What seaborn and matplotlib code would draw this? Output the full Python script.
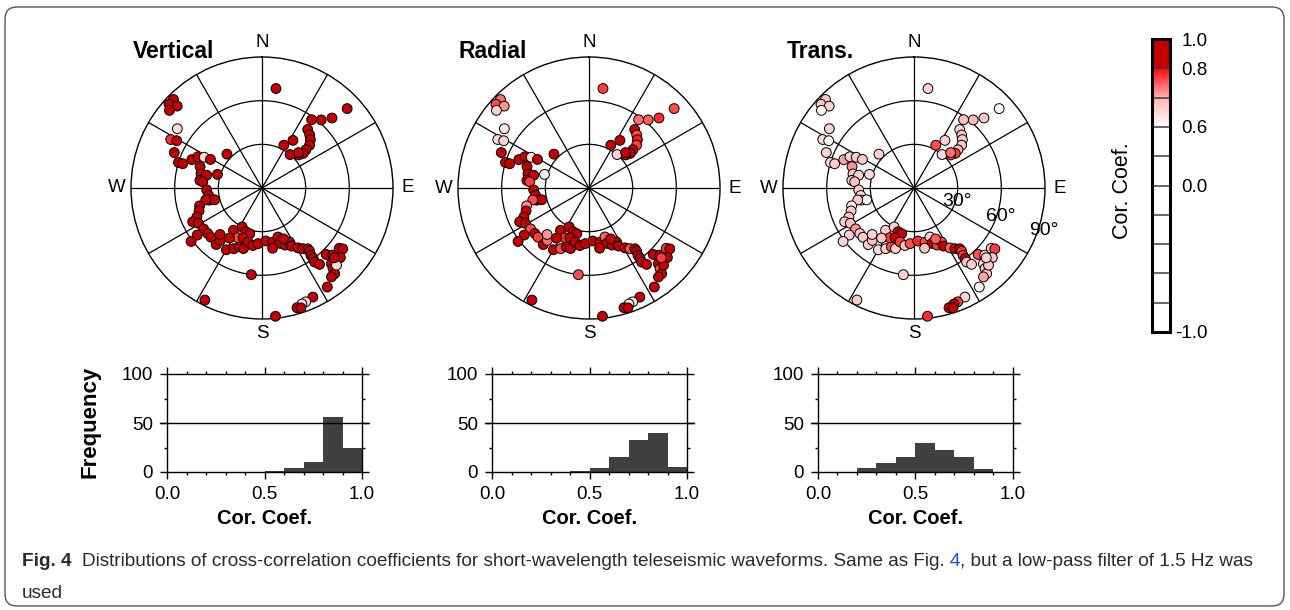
import numpy as np
import matplotlib
matplotlib.use("Agg")
import matplotlib.pyplot as plt
import matplotlib.colors as mcolors
import matplotlib.transforms as mtransforms
from matplotlib.patches import FancyBboxPatch
from matplotlib import font_manager
import seaborn as sns

# ---------------- data ----------------
azimuth_deg = [8, 47, 45, 41, 36, 38, 42, 45, 48, 49, 50, 48, 33, 27, 40, 46,
               315, 312, 314, 310, 305, 298, 299, 292, 287, 287, 292, 296, 298, 299, 314, 287,
               289, 283, 277, 283, 276, 268, 262, 257, 256, 258,
               254, 250, 246, 244, 241, 235, 234, 233, 230, 226, 219, 218.5, 210, 205, 214, 201,
               197, 207, 200, 195, 206, 201, 194.5, 189, 184, 187, 222, 213,
               176, 168.5, 162, 162, 158, 153, 153, 149, 146, 143, 143, 144, 144, 144.6, 143, 170, 157,
               136, 133.5, 128, 127, 131.6, 137.5, 138.6, 139.7, 142, 146.6, 136, 134,
               155, 159, 161, 163.7, 162, 174, 207]
distance_deg = [69, 80, 68, 62, 58, 51, 49, 47, 44, 40, 37, 34, 39, 33, 30, 35,
                86, 86, 81, 83, 71, 71, 67, 65, 60, 57, 52, 49, 45, 40.5, 33.5, 32,
                45, 43, 43, 39, 41, 38, 37, 37, 33.5, 39.5,
                44.6, 46, 49, 53, 50, 49, 55, 61, 48.6, 48.7, 50, 46, 49, 46, 35, 43.3,
                43.5, 30, 32, 32.5, 38, 36.5, 38.3, 40, 38.3, 60, 43, 41,
                36.5, 38, 35.4, 40, 42.3, 41.7, 44.8, 48, 50.3, 52.3, 54.3, 57.3, 59.8, 62.4, 65.7, 42, 38,
                63.5, 67, 67.3, 69.5, 72, 70.5, 73.8, 77.2, 77.5, 81.5, 73.7, 69,
                82.7, 83.8, 84.3, 85.7, 86.6, 88.6, 86.4]
cc_vertical = [.88, .86, .87, .88, .86, .85, .87, .88, .86, .85, .87, .89, .86, .85, .87, .88,
               .88, .87, .86, .89, .65, .78, .86, .87, .88, .87, .86, .85, .66, .87, .86, .88,
               .86, .87, .88, .85, .87, .86, .88, .87, .85, .86,
               .87, .88, .86, .87, .89, .86, .87, .85, .88, .86, .87, .88, .86, .87, .85, .86,
               .88, .87, .86, .85, .76, .87, .86, .88, .87, .86, .87, .86,
               .87, .86, .88, .87, .86, .85, .87, .88, .86, .87, .86, .88, .87, .86, .85, .86, .87,
               .86, .87, .88, .86, .87, .88, .86, .87, .86, .88, .65, .86,
               .87, .65, .64, .86, .88, .87, .86]
cc_radial = [.77, .76, .78, .75, .74, .82, .76, .79, .77, .80, .85, .84, .83, .82, .66, .86,
             .74, .76, .72, .66, .63, .65, .66, .84, .86, .85, .84, .82, .64, .83, .85, .63,
             .85, .84, .86, .83, .77, .82, .85, .84, .82, .76,
             .72, .84, .85, .83, .84, .76, .83, .82, .86, .77, .85, .74, .84, .76, .83, .84,
             .85, .82, .84, .83, .78, .85, .84, .83, .85, .76, .72, .84,
             .84, .83, .75, .84, .82, .84, .85, .84, .76, .85, .83, .84, .85, .82, .84, .85, .84,
             .83, .84, .77, .85, .84, .85, .76, .84, .85, .84, .83, .77,
             .86, .64, .63, .85, .86, .86, .85]
cc_transverse = [.66, .58, .67, .69, .68, .66, .68, .67, .68, .69, .77, .76, .66, .76, .65, .74,
                 .67, .68, .66, .59, .66, .65, .61, .66, .65, .67, .71, .66, .67, .67, .66, .65,
                 .72, .67, .66, .65, .68, .67, .65, .66, .61, .67,
                 .62, .67, .68, .67, .68, .72, .66, .66, .68, .67, .66, .68, .65, .66, .67, .76,
                 .66, .66, .84, .82, .77, .83, .77, .68, .76, .66, .66, .68,
                 .78, .76, .67, .85, .77, .76, .82, .75, .84, .86, .78, .77, .84, .68, .67, .68, .75,
                 .76, .67, .68, .77, .68, .65, .68, .67, .71, .62, .67, .66,
                 .66, .77, .86, .85, .84, .78, .67]

hist_bin_edges = [0.0, 0.1, 0.2, 0.3, 0.4, 0.5, 0.6, 0.7, 0.8, 0.9, 1.0]
freq_vertical = [0, 0, 0, 0, 0, 1, 4, 10, 56, 25]
freq_radial = [0, 0, 0, 0, 1, 4, 15, 33, 40, 5]
freq_transverse = [0, 0, 4, 9, 15, 30, 22, 15, 3, 0]

panel_titles = ["Vertical", "Radial", "Trans."]
cardinal_az = [0, 90, 180, 270]
cardinal_labels = ["N", "E", "S", "W"]
ring_values = [30, 60, 90]
ring_labels = ["30°", "60°", "90°"]
cbar_tick_values = [-1.0, 0.0, 0.6, 0.8, 1.0]
cbar_tick_labels = ["-1.0", "0.0", "0.6", "0.8", "1.0"]

for arr in (distance_deg, cc_vertical, cc_radial, cc_transverse):
    assert len(arr) == len(azimuth_deg)

# ---------------- style ----------------
sns.set_theme(style="white")
plt.rcParams["font.family"] = ["Liberation Sans", "DejaVu Sans"]
plt.rcParams["axes.edgecolor"] = "black"
plt.rcParams["xtick.color"] = "black"
plt.rcParams["ytick.color"] = "black"
plt.rcParams["text.color"] = "black"

W, H = 1290, 610
fig = plt.figure(figsize=(W / 100, H / 100), dpi=100)
fig.patch.set_facecolor("white")


class PiecewiseNorm(mcolors.Normalize):
    """Non-uniform colour scale (GMT style CPT with unequal slices)."""

    def __init__(self, vals, pos):
        super().__init__(vmin=vals[0], vmax=vals[-1])
        self._vals = np.asarray(vals, float)
        self._pos = np.asarray(pos, float)

    def __call__(self, value, clip=None):
        return np.interp(np.asarray(value, float), self._vals, self._pos)


norm = PiecewiseNorm([-1.0, 0.0, 0.3, 0.6, 0.7, 0.8, 1.0],
                     [0.0, 0.5, 0.6, 0.7, 0.8, 0.9, 1.0])
cmap = mcolors.LinearSegmentedColormap.from_list(
    "cc", [(0.0, "#ffffff"), (0.7, "#ffffff"), (0.8, "#ffb4b4"),
           (0.9, "#ff0a0a"), (0.9, "#c40000"), (1.0, "#c40000")], N=512)

theta = np.deg2rad(np.asarray(azimuth_deg, float))
dist = np.asarray(distance_deg, float)
cc_sets = [cc_vertical, cc_radial, cc_transverse]
freq_sets = [freq_vertical, freq_radial, freq_transverse]


def fx(px):
    return px / W


def fy(py):
    return 1 - py / H


# ---------------- polar panels ----------------
centers = [(262, 188), (589, 188), (914, 188)]
title_x = [174, 493, 820]
R = 131
for i, (cx, cy) in enumerate(centers):
    ax = fig.add_axes([fx(cx - R), fy(cy + R), 2 * R / W, 2 * R / H], projection="polar")
    ax.set_facecolor("none")
    ax.set_theta_zero_location("N")
    ax.set_theta_direction(-1)
    sns.scatterplot(x=theta, y=dist, hue=np.asarray(cc_sets[i], float), palette=cmap,
                    hue_norm=norm, s=50, edgecolor="black", linewidth=0.7,
                    legend=False, ax=ax, zorder=3, clip_on=False)
    ax.set_ylim(0, 90)
    ax.set_yticks([30, 60])
    ax.set_yticklabels([])
    ax.set_xticks(np.deg2rad(np.arange(0, 360, 30)))
    ax.set_xticklabels([])
    ax.set_xlabel("")
    ax.set_ylabel("")
    ax.grid(True, color="black", linewidth=0.9, linestyle="-")
    ax.set_axisbelow(True)
    ax.spines["polar"].set_color("black")
    ax.spines["polar"].set_linewidth(1.0)
    for a, lab in zip(cardinal_az, cardinal_labels):
        ax.text(np.deg2rad(a), 100, lab, ha="center", va="center", fontsize=13.5,
                clip_on=False)
    if i == 2:
        for rv, lab, rr in zip(ring_values, ring_labels, [31, 62.5, 93.5]):
            ax.text(np.deg2rad(108), rr, lab, ha="center", va="center", fontsize=14,
                    clip_on=False, zorder=5)
    fig.text(fx(title_x[i]), fy(58), panel_titles[i], ha="center", va="baseline",
             fontsize=16.5, fontweight="bold")

# ---------------- colour bar ----------------
cax = fig.add_axes([fx(1152), fy(332), 18 / W, 293 / H])
cax.imshow(np.linspace(0, 1, 600).reshape(-1, 1), cmap=cmap, vmin=0, vmax=1,
           aspect="auto", extent=[0, 1, 0, 1], origin="lower", interpolation="bilinear")
for p in np.arange(0.1, 0.95, 0.1):
    cax.axhline(p, color="#3a3a3a", linewidth=1.1)
cax.set_xlim(0, 1)
cax.set_ylim(0, 1)
cax.set_xticks([])
cax.yaxis.tick_right()
cax.set_yticks(norm(cbar_tick_values))
cax.set_yticklabels(cbar_tick_labels)
cax.tick_params(axis="y", length=0, pad=27, labelsize=13.5)
for lbl in cax.get_yticklabels():
    lbl.set_horizontalalignment("right")
for sp in cax.spines.values():
    sp.set_color("black")
    sp.set_linewidth(2.2)
fig.text(fx(1122), fy(191), "Cor. Coef.", rotation=90, ha="center", va="center",
         fontsize=15.5)

# ---------------- histograms ----------------
hist_left = [167, 492, 818]
centers_bins = [(a + b) / 2 for a, b in zip(hist_bin_edges[:-1], hist_bin_edges[1:])]
for i, left in enumerate(hist_left):
    hx = fig.add_axes([fx(left), fy(472), 195 / W, 98 / H])
    sns.histplot(x=centers_bins, weights=freq_sets[i], bins=hist_bin_edges, ax=hx,
                 color="#404040", alpha=1, edgecolor="none", linewidth=0)
    hx.set_xlim(0, 1)
    hx.set_ylim(0, 100)
    hx.set_xticks([0, 0.5, 1.0])
    hx.set_xticklabels(["0.0", "0.5", "1.0"])
    hx.set_xticks(np.arange(0, 1.01, 0.1), minor=True)
    hx.set_yticks([0, 50, 100])
    hx.set_yticklabels(["0", "50", "100"])
    hx.set_yticks([25, 75], minor=True)
    hx.tick_params(which="both", direction="out", top=True, right=True, bottom=True,
                   left=True, labeltop=False, labelright=False, width=1)
    hx.tick_params(which="major", length=5, labelsize=13.5, pad=5)
    hx.tick_params(which="minor", length=2.5)
    hx.set_xlabel("")
    hx.set_ylabel("")
    hx.axhline(50, color="black", linewidth=1, xmin=-0.035, xmax=1.035, clip_on=False)
    for sp in hx.spines.values():
        sp.set_color("black")
        sp.set_linewidth(1)
        sp.set_visible(True)
    hx.text(0.5, -(518 - 472) / 98, "Cor. Coef.", transform=hx.transAxes,
            ha="center", va="center", fontsize=14.5, fontweight="bold")
    if i == 0:
        fig.text(fx(90), fy(422), "Frequency", rotation=90, ha="center", va="center",
                 fontsize=16, fontweight="bold")

# ---------------- caption ----------------
names = {f.name for f in font_manager.fontManager.ttflist}
cap_font = "Liberation Sans Narrow" if "Liberation Sans Narrow" in names else "Liberation Sans"
cap_color = "#2b2b2b"
pieces = [("Fig. 4", "bold", cap_color, 0.55),
          ("Distributions of cross-correlation coefficients for short-wavelength teleseismic "
           "waveforms. Same as Fig.", "normal", cap_color, 0.25),
          ("4", "normal", "#1a4fd6", 0.0),
          (", but a low-pass filter of 1.5 Hz was", "normal", cap_color, 0.0)]
renderer = fig.canvas.get_renderer()


def draw_caption(fs):
    made = []
    x = 22.0
    for s, wgt, col, gap in pieces:
        t = fig.text(fx(x), fy(562), s, fontsize=fs, fontweight=wgt, color=col,
                     family=[cap_font, "DejaVu Sans"], ha="left", va="center")
        made.append(t)
        bb = t.get_window_extent(renderer)
        x = bb.x1 + gap * fs * 100 / 72
    return made, x


made, xend = draw_caption(11.5)
scale = (1262 - 22) / (xend - 22)
for t in made:
    t.remove()
made, xend = draw_caption(11.5 * scale)
fig.text(fx(22), fy(593), "used", fontsize=11.5 * scale, color=cap_color,
         family=[cap_font, "DejaVu Sans"], ha="left", va="center")

# ---------------- frame ----------------
frame = FancyBboxPatch((5, 4), 1279, 599, boxstyle="round,pad=0,rounding_size=12",
                       transform=mtransforms.IdentityTransform(), facecolor="none",
                       edgecolor="#555555", linewidth=1.0)
fig.add_artist(frame)

fig.savefig("out.png", dpi=100, facecolor="white")
